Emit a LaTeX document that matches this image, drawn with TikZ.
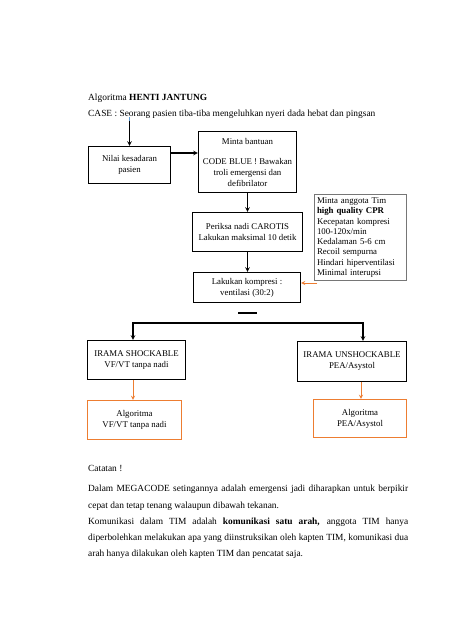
\documentclass[tikz,border=0pt]{standalone}
\usepackage{fontspec}
\setmainfont{Liberation Serif}
\definecolor{orng}{RGB}{237,125,49}
\definecolor{cprgray}{RGB}{118,118,118}
\definecolor{lblue}{RGB}{91,155,213}
\begin{document}
\begin{tikzpicture}[x=1pt,y=-1pt,
	box/.style={draw,line width=1.1pt,align=center,font=\fontsize{8.8}{11}\selectfont,inner sep=2pt},
	obox/.style={box,draw=orng},
	arr/.style={line width=1.1pt,-stealth},
	oarr/.style={line width=0.9pt,-stealth,draw=orng},
	teks/.style={anchor=base west,inner sep=0pt,font=\fontsize{9.4}{11}\selectfont}]
	\fill[white](0,0)rectangle(474,632);
	\useasboundingbox(0,0)rectangle(474,632);
	% judul dan kasus
	\node[teks](judul) at (88,100){Algoritma \textbf{HENTI JANTUNG}};
	\node[teks](kasus) at (88,116){CASE : Seorang pasien tiba-tiba mengeluhkan nyeri dada hebat dan pingsan};
	% kotak alur
	\node[box,minimum width=82pt,minimum height=37pt](nilai) at (129.5,165){Nilai kesadaran\\pasien};
	\node[box,minimum width=98pt,minimum height=61pt](minta) at (247.5,162){Minta bantuan\\[9pt]CODE BLUE ! Bawakan\\troli emergensi dan\\defibrilator};
	\node[box,minimum width=110pt,minimum height=39pt](periksa) at (247.5,232){Periksa nadi CAROTIS\\Lakukan maksimal 10 detik};
	\node[box,minimum width=107pt,minimum height=30pt](kompresi) at (247,287.5){Lakukan kompresi :\\ventilasi (30:2)};
	\node[draw=cprgray,line width=0.7pt,align=left,font=\fontsize{8.8}{10.3}\selectfont,text width=86pt,minimum height=84pt,inner sep=3pt](cpr) at (360,237.5){Minta anggota Tim\\\textbf{high quality CPR}\\Kecepatan kompresi\\100-120x/min\\Kedalaman 5-6 cm\\Recoil sempurna\\Hindari hiperventilasi\\Minimal interupsi};
	\node[box,minimum width=98pt,minimum height=39pt](shock) at (136.5,360){IRAMA SHOCKABLE\\VF/VT tanpa nadi};
	\node[box,minimum width=109pt,minimum height=40pt](unshock) at (352,361.5){IRAMA UNSHOCKABLE\\PEA/Asystol};
	\node[obox,minimum width=94pt,minimum height=39pt](algL) at (134.5,420){Algoritma\\VF/VT tanpa nadi};
	\node[obox,minimum width=93pt,minimum height=38pt](algR) at (360,418.5){Algoritma\\PEA/Asystol};
	% panah
	\coordinate(awal) at (129.5,121);
	\draw[lblue,line width=1pt](129.5,117)--(awal);
	\draw[arr](awal)--(nilai);
	\draw[arr]([yshift=12pt]nilai.east)--([yshift=12pt]nilai.east -| minta.west);
	\draw[arr](minta)--(minta.south |- periksa.north);
	\draw[arr](periksa)--(periksa.south |- kompresi.north);
	\coordinate(cprkaki) at (317,283);
	\draw[oarr](cprkaki)--(cprkaki -| kompresi.east);
	\coordinate(garisA) at (238,313);
	\coordinate(garisB) at (257,313);
	\draw[line width=1.3pt](garisA)--(garisB);
	\coordinate(cabangL) at (133,323);
	\coordinate(cabangR) at (363,323);
	\coordinate(cabangR2) at (361,323);
	\draw[line width=1.1pt,stealth-stealth](cabangL |- shock.north)--(cabangL)--(cabangR)--(cabangR |- unshock.north);
	\draw[oarr](cabangL |- shock.south)--(cabangL |- algL.north);
	\draw[oarr](cabangR2 |- unshock.south)--(cabangR2 |- algR.north);
	% catatan
	\node[teks](catatan) at (88,471){Catatan !};
	\node[anchor=north west,inner sep=0pt,text width=320pt,align=justify,font=\fontsize{9.4}{16.3}\selectfont](isi) at (88,485){Dalam MEGACODE setingannya adalah emergensi jadi diharapkan untuk berpikir\linebreak cepat dan tetap tenang walaupun dibawah tekanan.\par
	Komunikasi dalam TIM adalah \textbf{komunikasi satu arah,} anggota TIM hanya\linebreak diperbolehkan melakukan apa yang diinstruksikan oleh kapten TIM, komunikasi dua\linebreak arah hanya dilakukan oleh kapten TIM dan pencatat saja.};
\end{tikzpicture}
\end{document}
